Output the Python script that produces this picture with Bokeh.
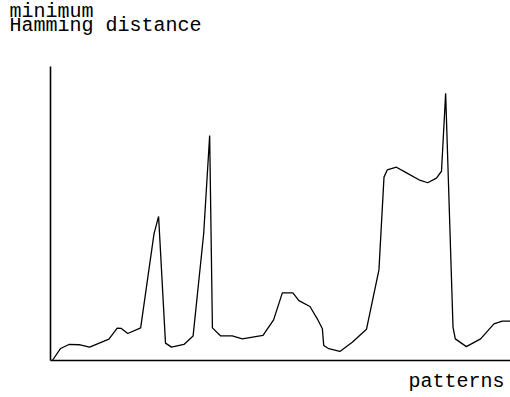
from bokeh.plotting import figure
from bokeh.models import Range1d, Label
from bokeh.embed import file_html
from bokeh.resources import INLINE

# pattern index (arbitrary units) and minimum Hamming distance (arbitrary units)
pattern = [0.4, 2.2, 4.0, 6.2, 8.5, 12.7, 14.5, 15.4, 16.8, 19.6, 22.5, 23.5, 25.0, 26.3,
           29.0, 31.0, 33.3, 34.6, 35.2, 37.0, 39.5, 41.7, 46.2, 48.5, 50.4, 52.7, 54.0,
           56.4, 58.0, 59.1, 59.4, 60.5, 62.9, 65.6, 68.7, 71.4, 72.5, 73.2, 75.2, 77.5,
           80.1, 82.0, 83.9, 85.0, 85.9, 87.5, 88.0, 90.4, 93.5, 96.4, 98.2, 100.0]
distance = [0.0, 4.5, 6.0, 5.9, 5.0, 8.0, 12.1, 12.0, 10.1, 12.2, 47.4, 53.9, 6.5, 5.0,
            6.0, 9.2, 47.4, 84.2, 12.2, 9.2, 9.2, 8.1, 9.4, 15.2, 25.3, 25.3, 22.4,
            20.2, 15.6, 11.9, 5.6, 4.4, 3.4, 6.8, 11.7, 33.9, 68.6, 71.3, 72.3, 70.1,
            67.6, 66.5, 68.2, 70.8, 100.0, 12.5, 8.1, 5.2, 8.1, 13.7, 14.7, 14.7]

y_label_lines = ["minimum", "Hamming distance"]
x_label = "patterns"

x_max = 100.0
y_axis_top = 110.0

p = figure(width=510, height=397, output_backend="svg", toolbar_location=None,
           x_axis_location=None, y_axis_location=None,
           x_range=Range1d(-50 / 4.6, 460 / 4.6), y_range=Range1d(-37 / 2.673, 360 / 2.673),
           min_border=0, min_border_left=0, min_border_right=0,
           min_border_top=0, min_border_bottom=0)
p.outline_line_color = None
p.grid.visible = False
p.background_fill_color = "white"
p.border_fill_color = "white"

# axes drawn as plain lines
p.line([0, 0], [0, y_axis_top], line_color="black", line_width=1.6)
p.line([0, x_max], [0, 0], line_color="black", line_width=1.6)

# data curve
p.line(pattern, distance, line_color="black", line_width=1.3)

font = "Liberation Mono"
fs = "20px"
p.add_layout(Label(x=-8.9, y=130.4, text=y_label_lines[0], text_font=font,
                   text_font_size=fs, text_color="black", text_baseline="alphabetic"))
p.add_layout(Label(x=-8.9, y=125.2, text=y_label_lines[1], text_font=font,
                   text_font_size=fs, text_color="black", text_baseline="alphabetic"))
p.add_layout(Label(x=98.7, y=-8.0, text=x_label, text_font=font, text_font_size=fs,
                   text_color="black", text_align="right", text_baseline="alphabetic"))

open("out.html", "w").write(file_html(p, INLINE))
